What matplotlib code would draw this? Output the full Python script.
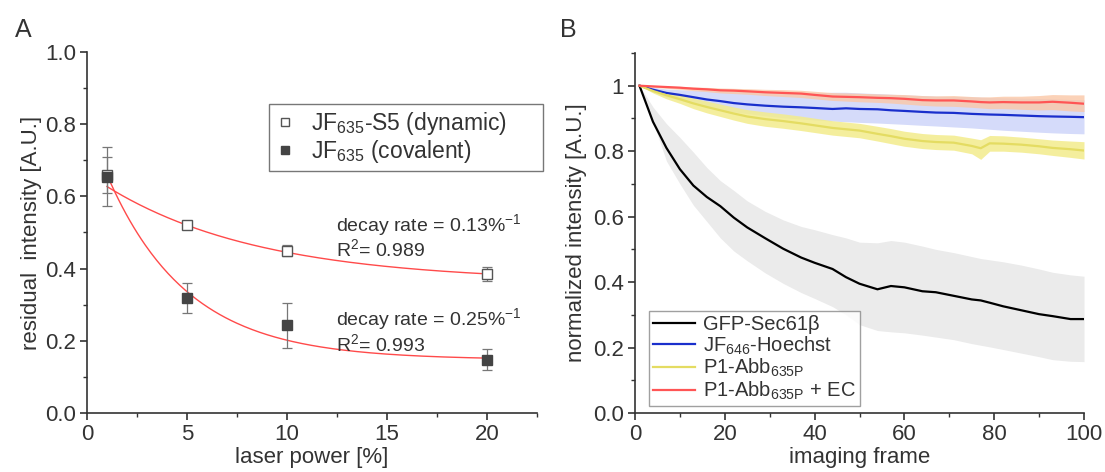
import numpy as np
import matplotlib
matplotlib.use("Agg")
import matplotlib.pyplot as plt
from matplotlib.ticker import MultipleLocator, FixedLocator, FixedFormatter

plt.rcParams['font.family'] = ['Liberation Sans', 'DejaVu Sans']
plt.rcParams['mathtext.fontset'] = 'custom'
plt.rcParams['mathtext.rm'] = 'Liberation Sans'
plt.rcParams['mathtext.it'] = 'Liberation Sans:italic'
plt.rcParams['text.color'] = '#333333'
plt.rcParams['axes.labelcolor'] = '#333333'
plt.rcParams['xtick.color'] = '#333333'
plt.rcParams['ytick.color'] = '#333333'

# %% DATA panel A
power = [1, 5, 10, 20]
dyn_mean = [0.66, 0.52, 0.45, 0.385]
dyn_err = [0.05, 0.006, 0.016, 0.02]
cov_mean = [0.655, 0.318, 0.243, 0.148]
cov_err = [0.082, 0.042, 0.062, 0.03]

# exponential fits  y = offset + amp * exp(-rate * x)
dyn_fit = dict(offset=0.363, amp=0.301, rate=0.13)
cov_fit = dict(offset=0.1476, amp=0.658, rate=0.25)

# %% DATA panel B
frames = [1, 4, 7, 10, 13, 16, 19, 22, 25, 29, 33, 37, 40, 44, 47, 50,
          54, 57, 60, 64, 67, 71, 75, 77, 79, 82, 86, 90, 93, 97, 100]

gfp = [1.0, 0.89, 0.81, 0.745, 0.695, 0.66, 0.632, 0.597, 0.567, 0.534, 0.502,
       0.475, 0.459, 0.440, 0.415, 0.395, 0.378, 0.388, 0.384, 0.372, 0.369,
       0.358, 0.347, 0.344, 0.337, 0.326, 0.314, 0.302, 0.296, 0.287, 0.287]
gfp_hi = [1.0, 0.935, 0.884, 0.842, 0.797, 0.75, 0.71, 0.68, 0.648, 0.616, 0.59,
          0.57, 0.56, 0.545, 0.535, 0.522, 0.52, 0.527, 0.522, 0.51, 0.50,
          0.49, 0.478, 0.472, 0.468, 0.462, 0.452, 0.44, 0.43, 0.422, 0.418]
gfp_lo = [1.0, 0.89, 0.77, 0.70, 0.635, 0.585, 0.535, 0.495, 0.465, 0.428, 0.396,
          0.368, 0.35, 0.325, 0.30, 0.27, 0.252, 0.248, 0.245, 0.238, 0.232,
          0.224, 0.212, 0.207, 0.202, 0.194, 0.183, 0.172, 0.163, 0.158, 0.157]

hoe = [1.0, 0.988, 0.978, 0.972, 0.965, 0.958, 0.953, 0.947, 0.943, 0.939, 0.936,
       0.934, 0.932, 0.929, 0.931, 0.929, 0.928, 0.925, 0.923, 0.92, 0.918,
       0.917, 0.914, 0.913, 0.912, 0.911, 0.909, 0.907, 0.906, 0.905, 0.904]
hoe_hi = [1.0, 0.995, 0.99, 0.988, 0.986, 0.985, 0.984, 0.983, 0.982, 0.98, 0.979,
          0.978, 0.978, 0.98, 0.98, 0.978, 0.976, 0.974, 0.972, 0.97, 0.968,
          0.967, 0.966, 0.965, 0.964, 0.963, 0.962, 0.961, 0.96, 0.958, 0.957]
hoe_lo = [1.0, 0.98, 0.965, 0.955, 0.945, 0.935, 0.927, 0.92, 0.915, 0.908, 0.902,
          0.898, 0.895, 0.892, 0.89, 0.888, 0.886, 0.884, 0.882, 0.879, 0.877,
          0.874, 0.871, 0.869, 0.867, 0.864, 0.861, 0.858, 0.856, 0.854, 0.853]

abb = [1.0, 0.984, 0.971, 0.959, 0.946, 0.935, 0.925, 0.915, 0.906, 0.898, 0.892,
       0.885, 0.879, 0.871, 0.867, 0.863, 0.853, 0.846, 0.838, 0.831, 0.828,
       0.826, 0.816, 0.809, 0.824, 0.823, 0.82, 0.815, 0.81, 0.806, 0.802]
abb_hi = [1.0, 0.99, 0.982, 0.972, 0.962, 0.953, 0.944, 0.935, 0.927, 0.92, 0.914,
          0.907, 0.901, 0.893, 0.889, 0.885, 0.876, 0.869, 0.861, 0.854, 0.851,
          0.849, 0.84, 0.835, 0.848, 0.847, 0.843, 0.838, 0.834, 0.831, 0.829]
abb_lo = [1.0, 0.978, 0.96, 0.946, 0.93, 0.917, 0.906, 0.895, 0.885, 0.876, 0.87,
          0.863, 0.857, 0.849, 0.845, 0.841, 0.831, 0.823, 0.815, 0.808, 0.805,
          0.803, 0.792, 0.775, 0.80, 0.80, 0.797, 0.792, 0.787, 0.781, 0.776]

abb_ec = [1.0, 0.998, 0.996, 0.994, 0.991, 0.989, 0.986, 0.985, 0.983, 0.98, 0.978,
          0.976, 0.972, 0.967, 0.966, 0.965, 0.963, 0.962, 0.96, 0.956, 0.955,
          0.955, 0.952, 0.95, 0.949, 0.95, 0.949, 0.949, 0.951, 0.948, 0.945]
abb_ec_hi = [1.0, 1.0, 0.999, 0.998, 0.996, 0.995, 0.993, 0.992, 0.991, 0.989, 0.988,
             0.986, 0.983, 0.979, 0.978, 0.977, 0.975, 0.974, 0.973, 0.97, 0.969,
             0.97, 0.967, 0.966, 0.966, 0.968, 0.968, 0.97, 0.973, 0.972, 0.972]
abb_ec_lo = [1.0, 0.995, 0.992, 0.989, 0.985, 0.982, 0.978, 0.976, 0.974, 0.97, 0.967,
             0.964, 0.96, 0.955, 0.953, 0.951, 0.949, 0.947, 0.944, 0.94, 0.938,
             0.937, 0.934, 0.932, 0.93, 0.93, 0.928, 0.926, 0.927, 0.923, 0.921]


def style_axes(ax):
    for s in ['top', 'right']:
        ax.spines[s].set_visible(False)
    for s in ['left', 'bottom']:
        ax.spines[s].set_color('#333333')
        ax.spines[s].set_linewidth(1.2)
    ax.tick_params(which='major', direction='out', length=5, width=1.2, labelsize=16, pad=3)
    ax.tick_params(which='minor', direction='out', length=3, width=1.0)


fig = plt.figure(figsize=(11.05, 4.72), dpi=100)

# %% PANEL A
axA = fig.add_axes([87/1105, 59/472, 450/1105, 361/472])
style_axes(axA)
axA.set_xlim(0, 22.5)
axA.set_ylim(0, 1.0)
axA.xaxis.set_major_locator(MultipleLocator(5))
axA.xaxis.set_minor_locator(MultipleLocator(2.5))
axA.yaxis.set_major_locator(MultipleLocator(0.2))
axA.yaxis.set_minor_locator(MultipleLocator(0.1))
axA.yaxis.set_major_formatter(plt.FormatStrFormatter('%.1f'))

xf = np.linspace(1, 20, 200)
for p in (dyn_fit, cov_fit):
    axA.plot(xf, p['offset'] + p['amp'] * np.exp(-p['rate'] * xf),
             color='#ff4a4a', lw=1.0, zorder=2)

axA.errorbar(power, dyn_mean, yerr=dyn_err, fmt='none', ecolor='#777777',
             elinewidth=0.9, capsize=3.5, capthick=0.9, zorder=3)
axA.errorbar(power, cov_mean, yerr=cov_err, fmt='none', ecolor='#777777',
             elinewidth=0.9, capsize=3.5, capthick=0.9, zorder=3)
axA.plot(power, dyn_mean, 's', ms=7, mfc='white', mec='#555555', mew=1.0,
         ls='none', zorder=4, label=r'JF$_{\mathrm{635}}$-S5 (dynamic)')
axA.plot(power, cov_mean, 's', ms=7, mfc='#444444', mec='#444444', mew=1.0,
         ls='none', zorder=4, label=r'JF$_{\mathrm{635}}$ (covalent)')

# legend box is wider than its text in the original
legA = axA.legend(loc='upper left',
                  bbox_to_anchor=(269/1105, 1 - 104/472, 274/1105, 0),
                  bbox_transform=fig.transFigure, mode='expand',
                  fontsize=16.5, frameon=True,
                  fancybox=False, edgecolor='#555555', handlelength=0.9,
                  handletextpad=0.7, borderpad=0.25, labelspacing=0.05,
                  borderaxespad=0, markerscale=0.75)
legA.get_frame().set_linewidth(1.0)

axA.text(12.45, 0.522, r'decay rate = 0.13%$^{\mathrm{-1}}$', fontsize=14, va='center')
axA.text(12.45, 0.455, r'R$^{\mathrm{2}}$= 0.989', fontsize=14, va='center')
axA.text(12.45, 0.259, r'decay rate = 0.25%$^{\mathrm{-1}}$', fontsize=14, va='center')
axA.text(12.45, 0.192, r'R$^{\mathrm{2}}$= 0.993', fontsize=14, va='center')

axA.set_xlabel('laser power [%]', fontsize=16, labelpad=1)
axA.set_ylabel('residual  intensity [A.U.]', fontsize=16, labelpad=2)
fig.text(23/1105, 1 - 30/472, 'A', fontsize=18, ha='center', va='center')

# %% PANEL B
axB = fig.add_axes([635/1105, 59/472, 449/1105, 360/472])
style_axes(axB)
axB.set_xlim(0, 100)
axB.set_ylim(0, 1.1)
axB.xaxis.set_major_locator(MultipleLocator(20))
axB.xaxis.set_minor_locator(MultipleLocator(10))
axB.yaxis.set_major_locator(FixedLocator([0, 0.2, 0.4, 0.6, 0.8, 1.0]))
axB.yaxis.set_major_formatter(FixedFormatter(['0.0', '0.2', '0.4', '0.6', '0.8', '1']))
axB.yaxis.set_minor_locator(MultipleLocator(0.1))

axB.fill_between(frames, gfp_lo, gfp_hi, color='#ebebeb', lw=0, zorder=1)
axB.fill_between(frames, hoe_lo, hoe_hi, color='#d5dbfa', lw=0, zorder=2)
axB.fill_between(frames, abb_lo, abb_hi, color='#f3ec8c', alpha=0.85, lw=0, zorder=3)
axB.fill_between(frames, abb_ec_lo, abb_ec_hi, color='#fbc7a6', alpha=0.8, lw=0, zorder=4)

axB.plot(frames, gfp, color='black', lw=1.6, zorder=5, label='GFP-Sec61β')
axB.plot(frames, hoe, color='#1a2fcc', lw=1.6, zorder=6, label=r'JF$_{\mathrm{646}}$-Hoechst')
axB.plot(frames, abb, color='#e4dc62', lw=1.6, zorder=7, label=r'P1-Abb$_{\mathrm{635P}}$')
axB.plot(frames, abb_ec, color='#ff5555', lw=1.6, zorder=8, label=r'P1-Abb$_{\mathrm{635P}}$ + EC')

legB = axB.legend(loc='lower left', bbox_to_anchor=(649/1105, 1 - 406/472),
                  bbox_transform=fig.transFigure, fontsize=14.5, frameon=True,
                  fancybox=False, edgecolor='#888888', handlelength=2.1,
                  handletextpad=0.4, borderpad=0.2, labelspacing=0.02,
                  borderaxespad=0)
legB.get_frame().set_linewidth(1.0)

axB.set_xlabel('imaging frame', fontsize=16, labelpad=1)
axB.set_ylabel('normalized intensity [A.U.]', fontsize=16, labelpad=4)
fig.text(568/1105, 1 - 30/472, 'B', fontsize=18, ha='center', va='center')

fig.savefig('out.png', dpi=100)
